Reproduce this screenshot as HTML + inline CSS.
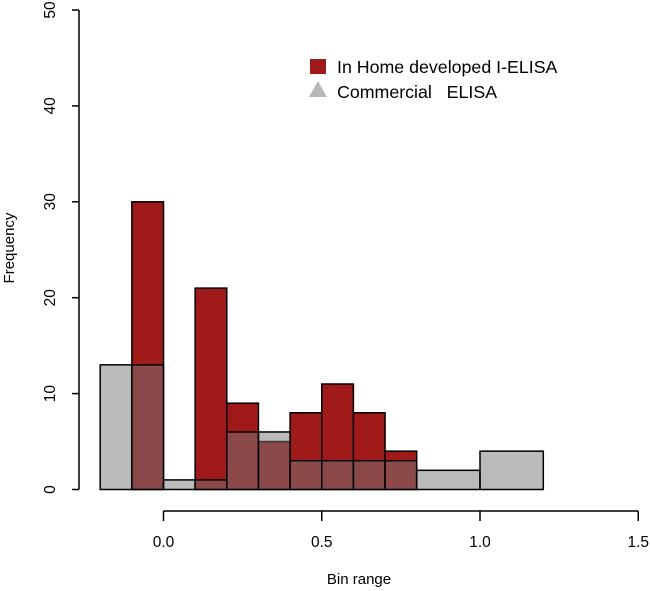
<!DOCTYPE html>
<html><head><meta charset="utf-8"><style>
body{margin:0;background:#fff}
svg{display:block;font-family:"Liberation Sans",Arial,sans-serif}
</style></head><body>
<svg id="chart" width="650" height="591" viewBox="0 0 650 591" xmlns="http://www.w3.org/2000/svg">
<g id="bars"></g>
<g id="axes"></g>
<g>
  <rect x="310" y="59" width="16" height="15" fill="#a01a1a"/>
  <text x="337" y="73" font-size="17.8">In Home developed I-ELISA</text>
  <polygon points="318,81 327,97 309,97" fill="#b8b8b8"/>
  <text x="337" y="98" font-size="17.8" xml:space="preserve">Commercial   ELISA</text>
</g>
<text x="359" y="584" font-size="15" text-anchor="middle">Bin range</text>
<text transform="translate(14,248) rotate(-90)" font-size="15" text-anchor="middle">Frequency</text>
</svg>
<script>
const redEdges=[-0.1,0,0.1,0.2,0.3,0.4,0.5,0.6,0.7,0.8];
const redCounts=[30,0,21,9,5,8,11,8,4];
const grayEdges=[-0.2,-0.1,0,0.1,0.2,0.3,0.4,0.5,0.6,0.7,0.8,1.0,1.2];
const grayCounts=[13,13,1,1,6,6,3,3,3,3,2,4];
const xTicks=[0,0.5,1.0,1.5];
const xTickLabels=["0.0","0.5","1.0","1.5"];
const yTicks=[0,10,20,30,40,50];

const NS="http://www.w3.org/2000/svg";
const X=v=>163.5+v*316.5;
const Y=v=>489.5-v*9.59;
const bars=document.getElementById('bars'), axes=document.getElementById('axes');
function mk(tag,attrs,parent){const e=document.createElementNS(NS,tag);for(const k in attrs)e.setAttribute(k,attrs[k]);parent.appendChild(e);return e;}
function drawHist(edges,counts,fill,name){
  counts.forEach((c,i)=>{
    if(c<=0)return;
    const x0=X(edges[i]),x1=X(edges[i+1]);
    const r=mk('rect',{x:x0,y:Y(c),width:x1-x0,height:Y(0)-Y(c),fill:fill,stroke:'#000','stroke-width':1.5},bars);
    
    
  });
}
drawHist(redEdges,redCounts,'#a01a1a','in-home');
drawHist(grayEdges,grayCounts,'rgba(120,120,120,0.5)','commercial');
const xl=mk('line',{x1:X(0),x2:X(1.5),y1:511,y2:511,stroke:'#000','stroke-width':1.5},axes);


xTicks.forEach((t,i)=>{
  const tk=mk('line',{x1:X(t),x2:X(t),y1:511,y2:521,stroke:'#000','stroke-width':1.5},axes);
  
  
  const tx=mk('text',{x:X(t),y:547,'font-size':15.5,'text-anchor':'middle'},axes);
  tx.textContent=xTickLabels[i];
  
  
});
const yl=mk('line',{x1:79,x2:79,y1:Y(0),y2:Y(50),stroke:'#000','stroke-width':1.5},axes);


yTicks.forEach(t=>{
  const tk=mk('line',{x1:72,x2:79,y1:Y(t),y2:Y(t),stroke:'#000','stroke-width':1.5},axes);
  
  
  const tx=mk('text',{transform:`translate(55,${Y(t)}) rotate(-90)`,'font-size':15.5,'text-anchor':'middle'},axes);
  tx.textContent=String(t);
  
  
});
</script>
</body></html>
